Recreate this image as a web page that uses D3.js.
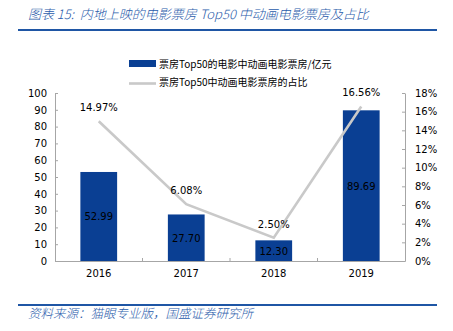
<!DOCTYPE html>
<html>
<head>
<meta charset="utf-8">
<script src="https://cdn.jsdelivr.net/npm/d3@7"></script>
<style>
  html, body { margin: 0; padding: 0; background: #fff; }
  svg { display: block; }
  .cjk { font-family: "Noto Sans CJK SC", sans-serif; }
  .num { font-family: "DejaVu Sans", Verdana, sans-serif; }
</style>
</head>
<body>
<script>
const years = ["2016", "2017", "2018", "2019"];
const boxOffice = [52.99, 27.70, 12.30, 89.69];
const share = [14.97, 6.08, 2.50, 16.56];
const leftTicks = [0, 10, 20, 30, 40, 50, 60, 70, 80, 90, 100];
const rightTicks = [0, 2, 4, 6, 8, 10, 12, 14, 16, 18];
const titleText = "图表 15:  内地上映的电影票房 Top50 中动画电影票房及占比";
const sourceText = "资料来源：猫眼专业版，国盛证券研究所";
const legendBar = "票房Top50的电影中动画电影票房/亿元";
const legendLine = "票房Top50中动画电影票房的占比";

const W = 453, H = 331;
const plot = { left: 55, right: 405, top: 93, bottom: 261 };
const barColor = "#0a3f93";
const lineColor = "#c9c9c9";
const axisColor = "#a6a6a6";
const brandBlue = "#1f56a5";

const svg = d3.select("body").append("svg").attr("width", W).attr("height", H);
svg.append("rect").attr("width", W).attr("height", H).attr("fill", "#fff");

// Title & rules
svg.append("text").attr("class", "cjk").attr("x", 28).attr("y", 19)
  .attr("font-size", 13).attr("font-style", "italic").attr("font-weight", 300).attr("fill", "#2a5cab")
  .attr("xml:space", "preserve").text(titleText);
svg.append("rect").attr("x", 18).attr("y", 29).attr("width", 419).attr("height", 2).attr("fill", brandBlue);
svg.append("rect").attr("x", 18).attr("y", 304).attr("width", 419).attr("height", 2).attr("fill", brandBlue);
svg.append("text").attr("class", "cjk").attr("x", 28).attr("y", 318)
  .attr("font-size", 12.5).attr("font-style", "italic").attr("font-weight", 300).attr("fill", "#2a5cab")
  .text(sourceText);

const x = d3.scaleBand().domain(years).range([plot.left, plot.right]).paddingInner(0.58).paddingOuter(0.29);
const xc = d3.scaleBand().domain(years).range([plot.left, plot.right]);
const yL = d3.scaleLinear().domain([0, 100]).range([plot.bottom, plot.top]);
const yR = d3.scaleLinear().domain([0, 18]).range([plot.bottom, plot.top]);

// Left axis
const gL = svg.append("g").attr("transform", `translate(${plot.left},0)`)
  .call(d3.axisLeft(yL).tickValues(leftTicks).tickSize(-3).tickPadding(8).tickSizeOuter(0));
// Right axis
const gR = svg.append("g").attr("transform", `translate(${plot.right},0)`)
  .call(d3.axisRight(yR).tickValues(rightTicks).tickSize(-3).tickPadding(10).tickSizeOuter(0).tickFormat(d => d + "%"));
// Bottom axis
const gB = svg.append("g").attr("transform", `translate(0,${plot.bottom})`)
  .call(d3.axisBottom(xc).tickSize(0).tickPadding(9).tickSizeOuter(0));
// Category separator ticks
gB.selectAll("line.sep").data(years.slice(1)).enter().append("line").attr("class", "sep")
  .attr("x1", d => xc(d)).attr("x2", d => xc(d)).attr("y1", 0).attr("y2", -3).attr("stroke", axisColor);

[gL, gR, gB].forEach(g => {
  g.selectAll("path.domain").attr("stroke", axisColor);
  g.selectAll(".tick line").attr("stroke", axisColor);
  g.selectAll("text").attr("class", "num").attr("font-size", 10).attr("fill", "#000");
});

// Bars
svg.append("g").selectAll("rect").data(years).enter().append("rect")
  .attr("x", d => x(d)).attr("width", x.bandwidth())
  .attr("y", (d, i) => yL(boxOffice[i])).attr("height", (d, i) => yL(0) - yL(boxOffice[i]))
  .attr("fill", barColor);
svg.append("g").selectAll("text").data(years).enter().append("text")
  .attr("class", "num").attr("font-size", 10).attr("fill", "#000").attr("text-anchor", "middle")
  .attr("x", d => x(d) + x.bandwidth() / 2)
  .attr("y", (d, i) => (yL(boxOffice[i]) + yL(0)) / 2 + 4)
  .text((d, i) => boxOffice[i].toFixed(2));

// Line
const line = d3.line().x((d, i) => xc(years[i]) + xc.bandwidth() / 2).y(d => yR(d));
svg.append("path").datum(share).attr("d", line).attr("fill", "none")
  .attr("stroke", lineColor).attr("stroke-width", 2.6).attr("stroke-linejoin", "miter");
svg.append("g").selectAll("text").data(share).enter().append("text")
  .attr("class", "num").attr("font-size", 10).attr("fill", "#000").attr("text-anchor", "middle")
  .attr("x", (d, i) => xc(years[i]) + xc.bandwidth() / 2)
  .attr("y", d => yR(d) - 10)
  .text(d => d.toFixed(2) + "%");

// Legend
const lg = svg.append("g");
lg.append("rect").attr("x", 129).attr("y", 60).attr("width", 27).attr("height", 7).attr("fill", barColor);
lg.append("text").attr("class", "cjk").attr("x", 159).attr("y", 67.5).attr("font-size", 10).attr("fill", "#000").text(legendBar);
lg.append("line").attr("x1", 129).attr("x2", 156).attr("y1", 83.5).attr("y2", 83.5).attr("stroke", lineColor).attr("stroke-width", 2.6);
lg.append("text").attr("class", "cjk").attr("x", 159).attr("y", 85.5).attr("font-size", 10).attr("fill", "#000").text(legendLine);
</script>
</body>
</html>
